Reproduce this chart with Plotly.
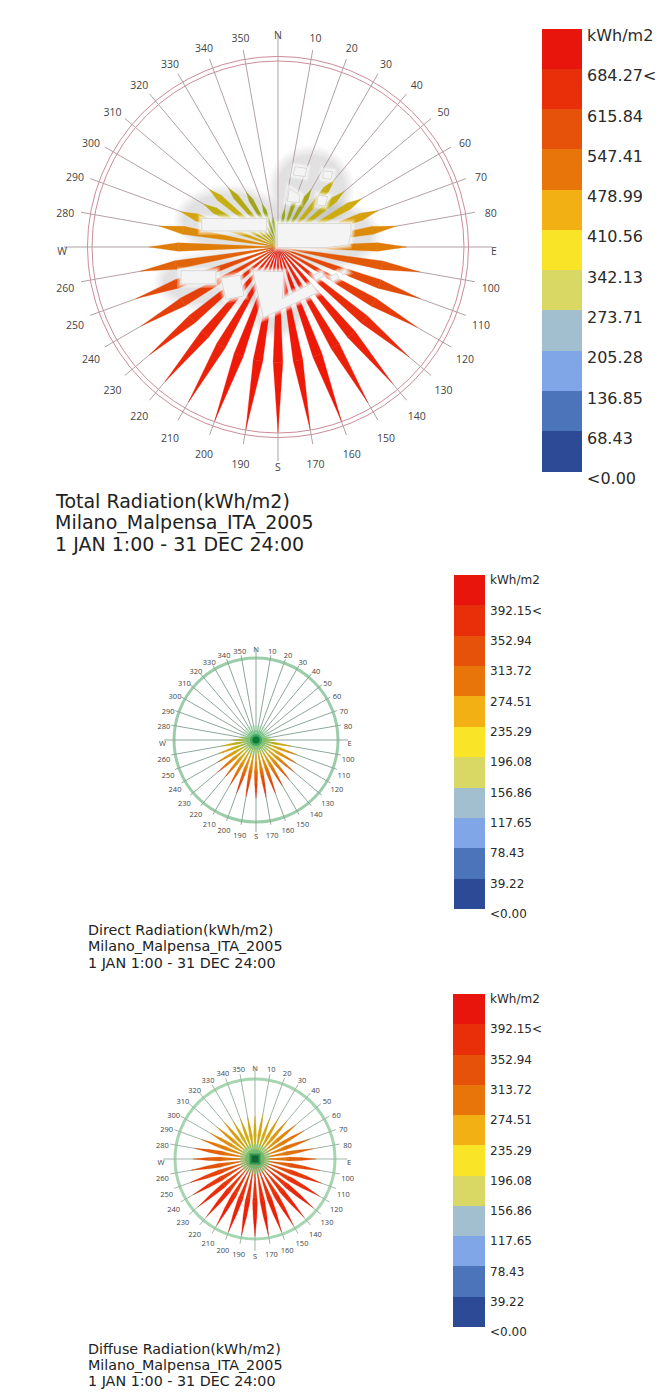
import plotly.graph_objects as go
from plotly.colors import sample_colorscale

W, H = 664, 1394

DIRECTIONS = list(range(0, 360, 10))
DIRECTION_LABELS = ["N","10","20","30","40","50","60","70","80","E","100","110","120","130","140","150","160","170",
                    "S","190","200","210","220","230","240","250","260","W","280","290","300","310","320","330","340","350"]

total_values = [108,155,236,270,357,350,391,431,488,522,584,613,650,693,721,728,752,750,
                751,750,748,725,712,678,639,613,566,523,489,418,348,364,313,256,186,121]
direct_values = [20,20,20,20,22,22,25,35,70,105,189,228,245,263,272,280,298,307,
                 307,302,298,273,256,263,237,210,184,131,88,44,20,20,20,20,20,20]
diffuse_values = [234,243,234,252,270,288,306,315,317,331,355,382,400,410,409,412,418,418,
                  419,418,418,412,407,400,387,371,349,335,331,306,279,270,261,234,230,230]

legend_colors = ["#2c4a96","#4c74ba","#80a6e8","#a2bfcf","#d9d864","#f9e428",
                 "#f2b015","#e8750a","#e6520a","#e92f0a","#e8150c"]
total_levels = ["<0.00","68.43","136.85","205.28","273.71","342.13","410.56","478.99","547.41","615.84","684.27<","kWh/m2"]
sub_levels = ["<0.00","39.22","78.43","117.65","156.86","196.08","235.29","274.51","313.72","352.94","392.15<","kWh/m2"]
total_step, sub_step = 68.43, 39.22

petal_scale = [[0,"#7fae10"],[.35,"#a2a41a"],[.5,"#ccb00e"],[.6,"#dc9a0c"],[.7,"#e07a08"],
               [.8,"#e2500a"],[.9,"#e8300a"],[1,"#ee1808"]]

titles = [
    (["Total Radiation(kWh/m2)","Milano_Malpensa_ITA_2005","1 JAN 1:00 - 31 DEC 24:00"], 55, [501,522,544], 19),
    (["Direct Radiation(kWh/m2)","Milano_Malpensa_ITA_2005","1 JAN 1:00 - 31 DEC 24:00"], 88, [930,946,963], 14.3),
    (["Diffuse Radiation(kWh/m2)","Milano_Malpensa_ITA_2005","1 JAN 1:00 - 31 DEC 24:00"], 88, [1349,1365,1381], 14.3),
]

fig = go.Figure()

def add_rose(name, values, vmax, cx, cy, px_spoke, px_cardinal, px_label, px_circle, half_angle, circles,
             spoke, ring, ring_w, tickfont, peak, grad, segments):
    unit = vmax / px_circle
    px_outer = px_label + 6
    # spokes, the cardinal ones run past the others
    for d in DIRECTIONS:
        end = px_cardinal if d % 90 == 0 else px_spoke
        fig.add_trace(go.Scatterpolar(subplot=name, r=[0, end*unit], theta=[d, d], mode="lines",
                                      line=dict(color=spoke, width=1), hoverinfo="skip", showlegend=False))
    for d, v in zip(DIRECTIONS, values):
        f = v / vmax
        fr = min(peak[0] + peak[1] * (1 - f), .85)
        ts = sorted({i / segments for i in range(segments + 1)} | {fr})
        hw = lambda t: half_angle * (t / fr if t <= fr else (1 - t) / (1 - fr))
        for t0, t1 in zip(ts[:-1], ts[1:]):
            tm = (t0 + t1) / 2
            col = sample_colorscale(petal_scale, [min(f * (grad[0] + grad[1] * tm), 1)])[0]
            fig.add_trace(go.Scatterpolar(
                subplot=name,
                r=[v*t0, v*t1, v*t1, v*t0, v*t0],
                theta=[d-hw(t0), d-hw(t1), d+hw(t1), d+hw(t0), d-hw(t0)],
                mode="lines", fill="toself", fillcolor=col, line=dict(width=0.3, color=col),
                hoverinfo="skip", showlegend=False))
    fig.add_trace(go.Scatterpolar(subplot=name, r=[px_label*unit]*len(DIRECTIONS), theta=DIRECTIONS, mode="text",
                                  text=DIRECTION_LABELS, textposition="bottom center", cliponaxis=False,
                                  textfont=dict(family="Open Sans", size=tickfont, color="#444"),
                                  hoverinfo="skip", showlegend=False))
    fig.update_layout({name: dict(
        domain=dict(x=[(cx-px_outer)/W, (cx+px_outer)/W], y=[1-(cy+px_outer)/H, 1-(cy-px_outer)/H]),
        bgcolor="rgba(0,0,0,0)",
        radialaxis=dict(range=[0, px_outer*unit], tickvals=circles, showticklabels=False, ticks="",
                        showline=False, gridcolor=ring, gridwidth=ring_w, layer="below traces"),
        angularaxis=dict(direction="clockwise", rotation=90, showticklabels=False, showline=False,
                         showgrid=False, ticks="", layer="below traces"),
    )})

add_rose("polar", total_values, 752.7, 278, 247, 200, 214, 216, 186, 2.4, [752.7, 771],
         "#b3a0a6", "#cc8c98", 1, 10.5, (.62, .5), (1, 0), 1)
add_rose("polar2", direct_values, 431.4, 256, 740, 86, 92, 93.5, 82, 3.0, [431.4],
         "#8ea89a", "#9ccdaa", 3, 7.5, (.55, 0), (.6, .75), 8)
add_rose("polar3", diffuse_values, 431.4, 255, 1159, 86, 92, 94, 80, 3.2, [431.4],
         "#9fb5a6", "#a6d6b0", 3, 7.5, (.55, 0), (.85, .2), 4)

# green hubs on the two small roses
hubs = {"polar2": [(30,"rgba(140,215,150,0.35)","circle"),(20,"rgba(100,195,120,0.5)","circle"),
                   (12,"rgba(40,160,90,0.7)","circle"),(7,"#0a7a35","circle")],
        "polar3": [(30,"rgba(130,205,130,0.55)","circle"),(20,"rgba(100,185,105,0.7)","circle"),
                   (11,"rgba(40,140,80,0.8)","square"),(7,"#0b6b30","square")]}
for name, rings in hubs.items():
    for size, col, sym in rings:
        fig.add_trace(go.Scatterpolar(subplot=name, r=[0], theta=[0], mode="markers",
                                      marker=dict(size=size, color=col, symbol=sym, line=dict(width=0)),
                                      hoverinfo="skip", showlegend=False))

# legends: stacked bars on their own axes, labels are the axis ticks
def add_legend(idx, step, levels, x0, x1, y_top, y_bot, font, off):
    n = len(legend_colors)
    upp = n * step / (y_bot - y_top)
    pad = off + 12
    xa, ya = f"x{idx}" , f"y{idx}"
    for c in legend_colors:
        fig.add_trace(go.Bar(x=[0], y=[step], marker=dict(color=c, line=dict(width=0)), xaxis=xa, yaxis=ya,
                             hoverinfo="skip", showlegend=False))
    tv = [i*step - off*upp for i in range(len(levels))]
    fig.update_layout({
        f"xaxis{idx}": dict(domain=[x0/W, x1/W], range=[-.5,.5], visible=False, anchor=ya),
        f"yaxis{idx}": dict(domain=[1-(y_bot+pad)/H, 1-(y_top-pad)/H], range=[-pad*upp, n*step+pad*upp],
                            anchor=xa, side="right", tickmode="array", tickvals=tv, ticktext=levels,
                            showgrid=False, zeroline=False, showline=False, ticks="",
                            tickfont=dict(family="DejaVu Sans", size=font, color="#2a2a2a"), ticklabelstandoff=4),
    })

add_legend(1, total_step, total_levels, 542, 582, 28, 471, 16, 7.5)
add_legend(2, sub_step, sub_levels, 454, 485, 575, 909, 12, 5)
add_legend(3, sub_step, sub_levels, 453, 485, 994, 1327, 12, 5)

for lines, x, ys, size in titles:
    for t, y in zip(lines, ys):
        fig.add_annotation(text=t, xref="paper", yref="paper", x=x/W, y=1-y/H, xanchor="left", yanchor="middle",
                           showarrow=False, xshift=-2, font=dict(family="DejaVu Sans", size=size, color="#222"))

# site plan on the total rose (image pixels from the zoomed crop)
def zp(pts):
    d = ""
    for i, (a, b) in enumerate(pts):
        d += ("M" if i == 0 else "L") + f"{(a/3+50)/W:.5f},{1-(b/3+20)/H:.5f}"
    return d + "Z"

buildings = [
    [(455,595),(650,595),(650,633),(455,633)],
    [(682,610),(903,610),(903,640),(895,675),(825,683),(682,683)],
    [(393,752),(498,752),(498,792),(393,792)],
    [(513,775),(570,765),(582,828),(528,838)],
    [(608,752),(702,755),(697,835),(785,790),(803,818),(640,893)],
    [(790,765),(815,755),(822,768),(797,782)],
    [(840,770),(860,760),(868,775),(847,785)],
    [(872,755),(885,748),(892,757),(878,764)],
    [(735,440),(770,445),(765,470),(730,465)],
    [(820,452),(848,455),(843,478),(818,475)],
    [(718,505),(750,525),(748,548),(712,545)],
    [(805,525),(833,530),(825,558),(800,555)],
]
halos = [(680,405,885,610),(400,520,680,680),(340,720,640,850),(610,745,760,930),(680,560,965,730)]
shapes = []
for (a,b,c,d) in halos:
    for k in range(5):
        e = k*7
        shapes.append(dict(type="circle", layer="below", xref="paper", yref="paper",
                           x0=((a-e)/3+50)/W, x1=((c+e)/3+50)/W, y0=1-((d+e)/3+20)/H, y1=1-((b-e)/3+20)/H,
                           fillcolor="rgba(90,90,90,0.04)", line=dict(width=0)))
for b in buildings:
    for lw, al in ((8,.25),(5,.4),(2,.6)):
        shapes.append(dict(type="path", path=zp(b), layer="above", xref="paper", yref="paper",
                           fillcolor="rgba(0,0,0,0)", line=dict(color=f"rgba(255,255,255,{al})", width=lw)))
    shapes.append(dict(type="path", path=zp(b), layer="above", xref="paper", yref="paper",
                       fillcolor="#f4f4f4", line=dict(color="#cfcfcf", width=0.8)))
fig.update_layout(shapes=shapes)

fig.update_layout(width=W, height=H, margin=dict(l=0,r=0,t=0,b=0), paper_bgcolor="white", plot_bgcolor="white",
                  barmode="stack", bargap=0, showlegend=False)
fig.write_html("out.html", config=dict(displayModeBar=False),
               post_script="document.body.style.margin='0';document.documentElement.style.overflow='hidden';")
